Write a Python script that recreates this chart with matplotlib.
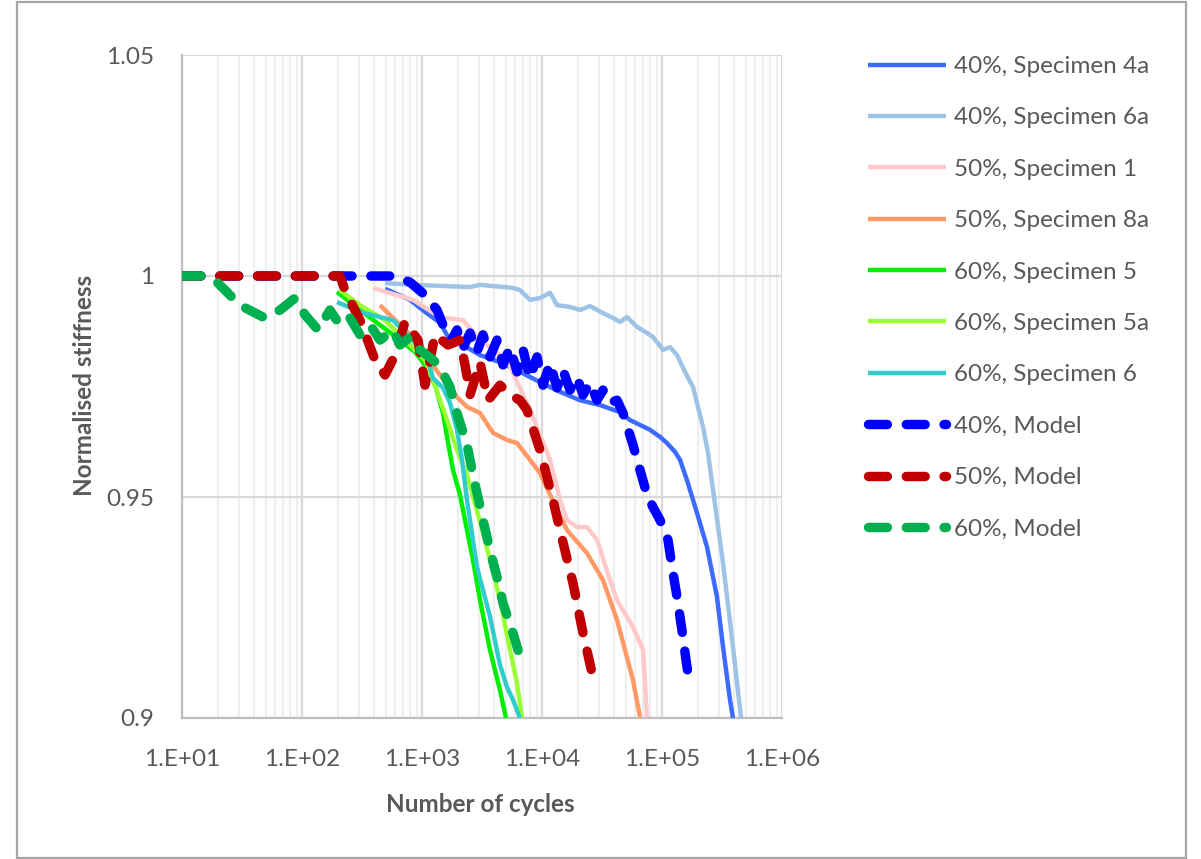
import math
import matplotlib
matplotlib.use("Agg")
import matplotlib.pyplot as plt
from matplotlib.patches import Rectangle
from matplotlib.ticker import FixedLocator, FuncFormatter, LogLocator, NullFormatter

plt.rcParams['font.family'] = ['Lato', 'DejaVu Sans']

# --- data (cycles, normalised stiffness) ---
n_4a = [492, 794, 1059, 1413, 1711, 2073, 3043, 4467, 6556, 9623, 14130, 20730, 30430,
        44670, 54100, 65600, 79430, 96200, 110100, 128400, 141300, 161600, 195700,
        237100, 287200, 322400, 368700, 390500]
s_4a = [0.9971, 0.9946, 0.9919, 0.9894, 0.9855, 0.9848, 0.9821, 0.9805, 0.9783, 0.9760,
        0.9738, 0.9719, 0.9708, 0.9692, 0.9674, 0.9663, 0.9652, 0.9636, 0.9622, 0.9602,
        0.9584, 0.9538, 0.9464, 0.9387, 0.9274, 0.9161, 0.9041, 0.9000]

n_6a = [492, 841, 2512, 3043, 5730, 6556, 7943, 9623, 11660, 13340, 17110, 20730, 25120,
        32240, 39050, 44670, 51090, 61900, 75000, 84100, 101900, 116600, 133400, 155500,
        181300, 219700, 241700, 266100, 322400, 390500, 455400]
s_6a = [0.9984, 0.9980, 0.9975, 0.9980, 0.9973, 0.9968, 0.9946, 0.9950, 0.9962, 0.9934,
        0.9930, 0.9923, 0.9932, 0.9916, 0.9905, 0.9896, 0.9907, 0.9885, 0.9871, 0.9862,
        0.9833, 0.9839, 0.9821, 0.9783, 0.9749, 0.9658, 0.9600, 0.9516, 0.9351, 0.9161,
        0.9000]

n_s1 = [391, 447, 841, 1413, 2197, 3043, 5109, 7943, 11660, 14130, 16160, 19570, 23710,
        28720, 36870, 42170, 57300, 69500, 75000]
s_s1 = [0.9973, 0.9968, 0.9946, 0.9907, 0.9900, 0.9855, 0.9810, 0.9697, 0.9584, 0.9493,
        0.9448, 0.9432, 0.9432, 0.9403, 0.9312, 0.9267, 0.9206, 0.9154, 0.9002]

n_8a = [447, 794, 1413, 1957, 2371, 3043, 3905, 5109, 6194, 7943, 9623, 13340, 16160,
        23710, 32240, 42170, 57300, 65600]
s_8a = [0.9934, 0.9867, 0.9776, 0.9726, 0.9704, 0.9690, 0.9645, 0.9629, 0.9622, 0.9584,
        0.9554, 0.9471, 0.9425, 0.9373, 0.9312, 0.9222, 0.9086, 0.9002]

n_5 = [196, 304, 447, 656, 875, 1059, 1284, 1496, 1616, 1813, 2073, 2371, 2661, 3043,
       3687, 4467, 5012]
s_5 = [0.9964, 0.9923, 0.9889, 0.9855, 0.9828, 0.9799, 0.9753, 0.9690, 0.9636, 0.9561,
       0.9505, 0.9425, 0.9357, 0.9267, 0.9154, 0.9063, 0.9000]

n_5a = [207, 304, 492, 794, 1059, 1236, 1413, 1616, 1957, 2371, 3224, 4467, 5412, 6194, 6813]
s_5a = [0.9968, 0.9934, 0.9900, 0.9844, 0.9810, 0.9765, 0.9719, 0.9674, 0.9606, 0.9550,
        0.9419, 0.9267, 0.9154, 0.9079, 0.9000]

n_6 = [196, 304, 447, 573, 794, 1101, 1236, 1496, 1711, 1957, 2154, 2371, 2872, 3687,
       4467, 5109, 5730, 6556]
s_6 = [0.9941, 0.9919, 0.9907, 0.9900, 0.9862, 0.9817, 0.9769, 0.9747, 0.9713, 0.9652,
       0.9584, 0.9493, 0.9342, 0.9229, 0.9120, 0.9070, 0.9041, 0.9000]

n_m40 = [10, 596, 794, 1059, 1334, 1555, 1711, 1957, 2197, 2512, 2872, 3224, 3687, 4217,
         4732, 5412, 6194, 6950, 7943, 9085, 10190, 11660, 13340, 14960, 17110, 19570,
         21970, 25120, 28720, 32240, 36870, 42170, 47320, 57300, 65600, 75000, 84100,
         96200, 112200, 121200, 133400, 149600, 158500, 171100]
s_m40 = [1.0, 1.0, 0.9986, 0.9957, 0.9923, 0.9878, 0.9848, 0.9878, 0.9837, 0.9871,
         0.9828, 0.9867, 0.9817, 0.9855, 0.9799, 0.9839, 0.9783, 0.9833, 0.9769, 0.9817,
         0.9753, 0.9803, 0.9747, 0.9787, 0.9742, 0.9771, 0.9731, 0.9758, 0.9719, 0.9742,
         0.9713, 0.9719, 0.9690, 0.9618, 0.9561, 0.9505, 0.9477, 0.9448, 0.9403, 0.9342,
         0.9274, 0.9183, 0.9131, 0.9070]

n_m50 = [10, 207, 228, 304, 406, 492, 596, 721, 926, 1059, 1284, 1648, 2073, 2282, 2512,
         3043, 3548, 4467, 5412, 6556, 7499, 9623, 12360, 14130, 18130, 21970, 26100]
s_m50 = [1.0, 1.0, 0.9968, 0.9900, 0.9810, 0.9776, 0.9821, 0.9896, 0.9855, 0.9753,
         0.9867, 0.9844, 0.9855, 0.9799, 0.9731, 0.9805, 0.9719, 0.9753, 0.9731, 0.9719,
         0.9697, 0.9606, 0.9493, 0.9425, 0.9305, 0.9192, 0.9102]

n_m60 = [10, 15.5, 18.8, 30.4, 49, 65.6, 87.5, 106, 136, 171, 207, 251, 304, 369, 447,
         573, 656, 794, 962, 1236, 1413, 1711, 1957, 2371, 2661, 3224, 3687, 4217, 4732,
         5730, 6683]
s_m60 = [1.0, 1.0, 0.9991, 0.9934, 0.9905, 0.9923, 0.9950, 0.9912, 0.9878, 0.9923,
         0.9889, 0.9905, 0.9867, 0.9889, 0.9855, 0.9878, 0.9844, 0.9862, 0.9833, 0.9810,
         0.9794, 0.9749, 0.9690, 0.9618, 0.9550, 0.9448, 0.9380, 0.9319, 0.9260, 0.9192,
         0.9131]

specimens = [
    ("40%, Specimen 4a", n_4a, s_4a, "#3D6BFF"),
    ("40%, Specimen 6a", n_6a, s_6a, "#9DC3E6"),
    ("50%, Specimen 1", n_s1, s_s1, "#FFC9C9"),
    ("50%, Specimen 8a", n_8a, s_8a, "#FF9966"),
    ("60%, Specimen 5", n_5, s_5, "#00EE00"),
    ("60%, Specimen 5a", n_5a, s_5a, "#99FF33"),
    ("60%, Specimen 6", n_6, s_6, "#33CCCC"),
]
models = [
    ("40%, Model", n_m40, s_m40, "#0000FF"),
    ("50%, Model", n_m50, s_m50, "#C00000"),
    ("60%, Model", n_m60, s_m60, "#00B050"),
]

fig = plt.figure(figsize=(12.01, 8.59), dpi=100)
ax = fig.add_axes([182 / 1201, 1 - 718 / 859, 600 / 1201, 663 / 859])

for label, n, s, c in specimens:
    ax.plot(n, s, color=c, lw=3.2, label=label, solid_capstyle='butt', zorder=3)
for label, n, s, c in models:
    ax.plot(n, s, color=c, lw=6.8, label=label, dashes=(2, 2),
            dash_capstyle='round', solid_joinstyle='round', zorder=4)

ax.set_xscale('log')
ax.set_xlim(10, 1e6)
ax.set_ylim(0.9, 1.05)

ax.xaxis.set_major_locator(LogLocator(base=10, numticks=10))
ax.xaxis.set_minor_locator(LogLocator(base=10, subs=range(2, 10), numticks=50))
ax.xaxis.set_minor_formatter(NullFormatter())
ax.xaxis.set_major_formatter(FuncFormatter(lambda v, p: "1.E+%02d" % round(math.log10(v))))
ax.yaxis.set_major_locator(FixedLocator([0.9, 0.95, 1.0, 1.05]))
ylabels = {0.9: "0.9", 0.95: "0.95", 1.0: "1", 1.05: "1.05"}
ax.yaxis.set_major_formatter(FuncFormatter(lambda v, p: ylabels[round(v, 2)]))

ax.grid(True, which='major', axis='both', color='#D9D9D9', lw=1.6, zorder=0)
ax.grid(True, which='minor', axis='x', color='#EFEFEF', lw=1.6, zorder=0)
ax.set_axisbelow(True)

ax.tick_params(axis='both', which='both', length=0, labelsize=17.5, labelcolor='#595959')
ax.tick_params(axis='x', pad=22)
ax.tick_params(axis='y', pad=20)
for side in ['top', 'right']:
    ax.spines[side].set_visible(False)
for side in ['left', 'bottom']:
    ax.spines[side].set_color('#BFBFBF')
    ax.spines[side].set_linewidth(1.6)

fig.text(85 / 1201, 1 - 385 / 859, "Normalised stiffness", rotation=90, ha='center', va='center',
         fontsize=17.5, fontweight='bold', color='#595959')
fig.text(480 / 1201, 1 - 805 / 859, "Number of cycles", ha='center', va='center',
         fontsize=17.5, fontweight='bold', color='#595959')

leg = ax.legend(loc='upper left', bbox_to_anchor=(868 / 1201, 1 - 56 / 859),
                bbox_transform=fig.transFigure, frameon=False, fontsize=17.5,
                handlelength=3.2, handletextpad=0.35, labelspacing=1.25,
                borderpad=0, borderaxespad=0)
for t in leg.get_texts():
    t.set_color('#595959')

# chart area border
fig.add_artist(Rectangle((17 / 1201, 1 / 859), 1169 / 1201, 856 / 859, transform=fig.transFigure,
                         fill=False, edgecolor='#A6A6A6', lw=1.6))

fig.savefig('out.png', dpi=100)
